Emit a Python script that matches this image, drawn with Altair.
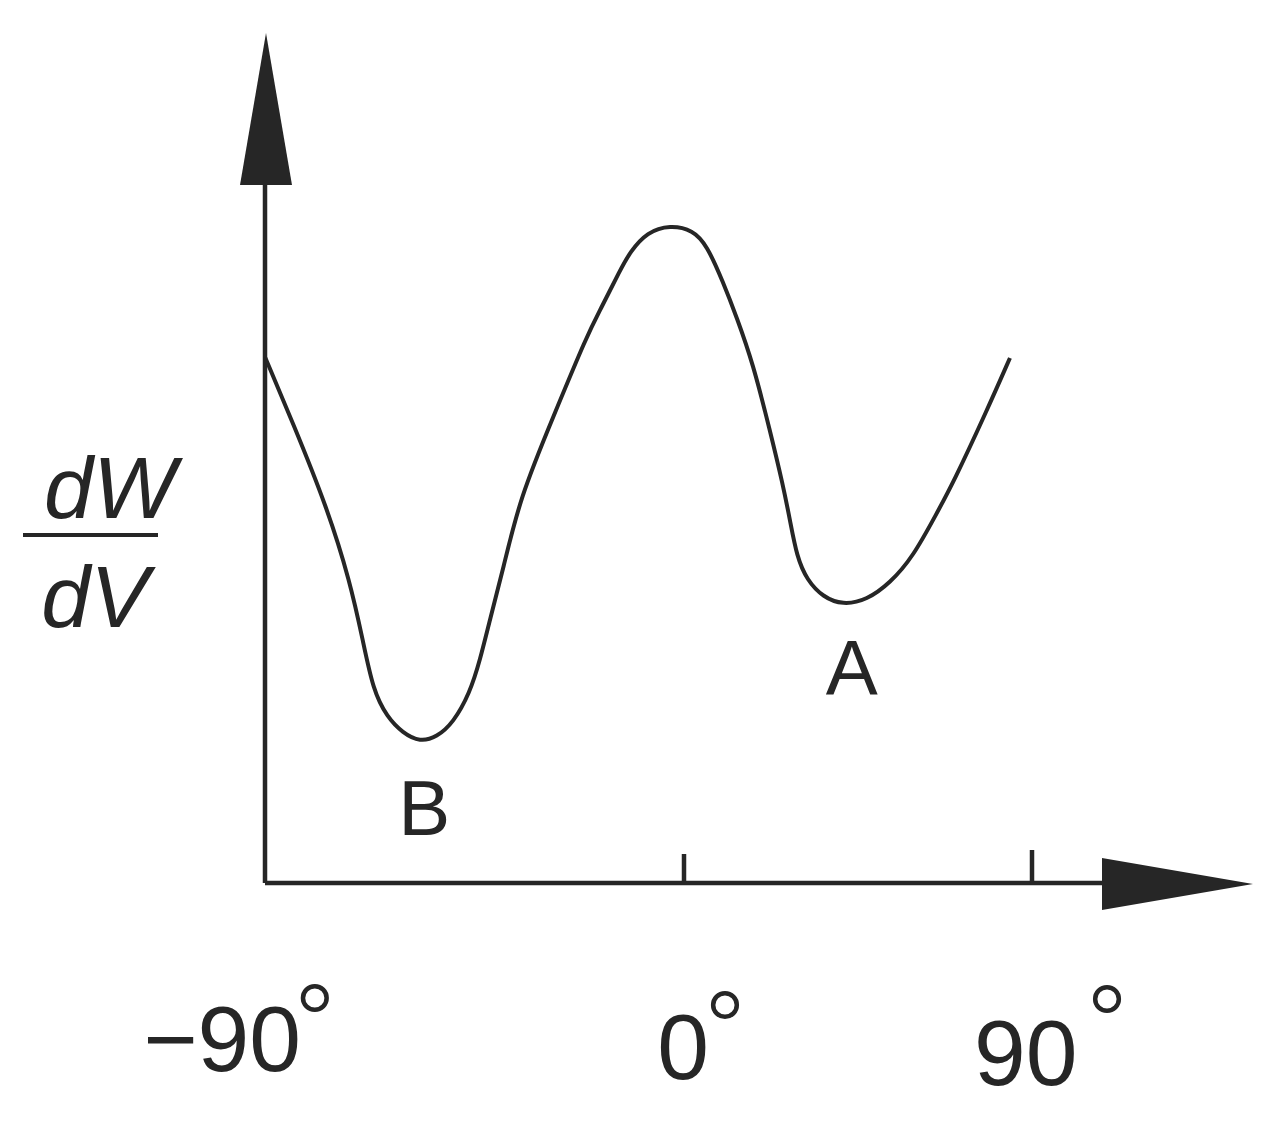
import altair as alt
import pandas as pd

# curve (angle in degrees, dW/dV in arbitrary units)
curve_x = [-90.0, -84.0, -76.7, -71.7, -69.0, -66.8, -63.8, -60.4, -56.7, -53.1,
           -49.6, -46.0, -43.8, -41.7, -38.9, -35.2, -28.1, -20.8, -18.0, -13.7,
           -11.6, -7.9, -3.0, 2.3, 5.9, 10.1, 13.7, 17.8, 22.2, 25.6,
           27.4, 29.2, 31.8, 35.9, 41.1, 47.3, 53.3, 59.2, 65.4, 69.6,
           78.4, 84.3]
curve_y = [526, 460, 376, 301, 243, 193, 166, 150, 141, 146,
           160, 190, 223, 263, 313, 386, 466, 548, 573, 613,
           631, 651, 658, 653, 638, 601, 565, 520, 453, 398,
           363, 326, 303, 286, 278, 283, 300, 326, 370, 400,
           473, 525]

# tick marks and labels
tick_x = [0, 90]
tick_label_text = ["−90", "0", "90"]
tick_label_x = [-99.2, -0.2, 88.4]
tick_label_y = [-188, -196, -202]
degree_x = [-79.3, 10.6, 109.4]
degree_y = [-115, -122, -116]

# point annotations
point_labels = ["B", "A"]
point_label_x = [-55.8, 43.4]
point_label_y = [48, 188]

INK = "#262626"
FONT = "Liberation Sans"

xs = alt.Scale(domain=[-90, 0, 90], range=[0, 419, 767], nice=False, zero=False)
ys = alt.Scale(domain=[0, 850], nice=False, zero=False)

curve_df = pd.DataFrame({"x": curve_x, "y": curve_y})
tick_df = pd.DataFrame({"x": tick_x, "y": [0, 0], "y2": [29, 33]})
lab_df = pd.DataFrame({"x": tick_label_x, "y": tick_label_y, "t": tick_label_text})
deg_df = pd.DataFrame({"x": degree_x, "y": degree_y})
pt_df = pd.DataFrame({"x": point_label_x, "y": point_label_y, "t": point_labels})
yaxis_df = pd.DataFrame({"x": [-90], "y": [0], "y2": [800]})

X = alt.X("x:Q", scale=xs, axis=None)
Y = alt.Y("y:Q", scale=ys, axis=None)

curve = alt.Chart(curve_df).mark_line(
    color=INK, strokeWidth=4, interpolate="basis", clip=False
).encode(x=X, y=Y)

# axis lines
y_axis = alt.Chart(yaxis_df).mark_rule(color=INK, strokeWidth=4.5).encode(
    x=X, y=Y, y2="y2:Q",
)
x_axis = alt.Chart(pd.DataFrame({"a": [0]})).mark_rule(color=INK, strokeWidth=4.5).encode(
    x=alt.value(0), x2=alt.value(920), y=alt.value(850),
)

ticks = alt.Chart(tick_df).mark_rule(color=INK, strokeWidth=4.5).encode(
    x=X, y=Y, y2="y2:Q",
)

y_arrow = alt.Chart(pd.DataFrame({"a": [0]})).mark_point(
    shape="M0,-1L0.342,1L-0.342,1Z", filled=True, color=INK, opacity=1, size=23104
).encode(x=alt.value(1), y=alt.value(76))

x_arrow = alt.Chart(pd.DataFrame({"a": [0]})).mark_point(
    shape="M1,0L-1,-0.344L-1,0.344Z", filled=True, color=INK, opacity=1, size=22801
).encode(x=alt.value(912.5), y=alt.value(851))

tick_labels = alt.Chart(lab_df).mark_text(
    font=FONT, fontSize=93, color=INK, align="center", baseline="alphabetic"
).encode(x=X, y=Y, text="t:N")

degrees = alt.Chart(deg_df).mark_point(
    shape="circle", filled=False, color=INK, opacity=1, size=560, strokeWidth=4.5
).encode(x=X, y=Y)

pt_labels = alt.Chart(pt_df).mark_text(
    font=FONT, fontSize=78, color=INK, align="center", baseline="alphabetic"
).encode(x=X, y=Y, text="t:N")

# y-axis title as a fraction dW / dV
num = alt.Chart(pd.DataFrame({"t": ["dW"]})).mark_text(
    font=FONT, fontSize=88, fontStyle="italic", color=INK, align="center", baseline="alphabetic"
).encode(x=alt.value(-155), y=alt.value(485), text="t:N")
den = alt.Chart(pd.DataFrame({"t": ["dV"]})).mark_text(
    font=FONT, fontSize=88, fontStyle="italic", color=INK, align="center", baseline="alphabetic"
).encode(x=alt.value(-170), y=alt.value(594), text="t:N")
bar = alt.Chart(pd.DataFrame({"a": [0]})).mark_rule(color=INK, strokeWidth=4).encode(
    x=alt.value(-242), x2=alt.value(-107), y=alt.value(502)
)

chart = alt.layer(
    y_axis, x_axis, ticks, curve, y_arrow, x_arrow, tick_labels, degrees,
    pt_labels, num, den, bar
).properties(
    width=988, height=850,
    autosize=alt.AutoSizeParams(type="none"),
    padding={"left": 257, "top": 25, "right": 10, "bottom": 236},
    background="white",
).configure_view(stroke=None)

chart.save("out.html", embed_options={"renderer": "svg", "actions": False})
